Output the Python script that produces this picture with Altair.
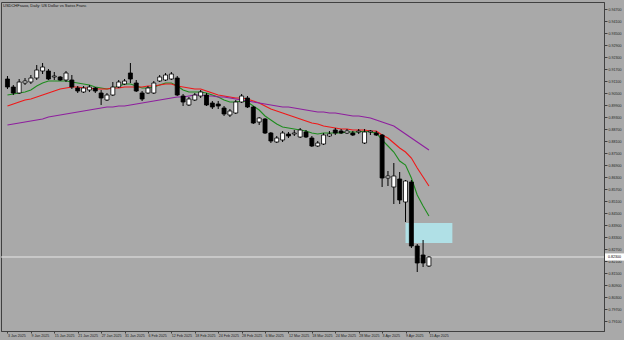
import altair as alt
import pandas as pd

title_text = "USDCHFsaxo, Daily: US Dollar vs Swiss Franc"

date_labels = ["3 Jan 2025", "9 Jan 2025", "15 Jan 2025", "21 Jan 2025", "27 Jan 2025",
               "31 Jan 2025", "6 Feb 2025", "12 Feb 2025", "18 Feb 2025", "24 Feb 2025",
               "28 Feb 2025", "6 Mar 2025", "12 Mar 2025", "18 Mar 2025", "24 Mar 2025",
               "28 Mar 2025", "3 Apr 2025", "9 Apr 2025", "15 Apr 2025"]
date_tick_bars = [0, 4, 8, 12, 16, 20, 24, 28, 32, 36, 40, 44, 48, 52, 56, 60, 64, 68, 72]

price_ticks = [0.947, 0.941, 0.935, 0.929, 0.923, 0.917, 0.911, 0.905, 0.899, 0.893,
               0.887, 0.881, 0.875, 0.869, 0.863, 0.857, 0.851, 0.845, 0.839, 0.833,
               0.827, 0.821, 0.815, 0.809, 0.803, 0.797, 0.791]

opens = [.9120, .9080, .9050, .9100, .9105, .9125, .9160, .9160, .9130, .9130,
         .9115, .9115, .9075, .9055, .9065, .9075, .9050, .9015, .9040, .9080,
         .9095, .9150, .9100, .9050, .9050, .9050, .9110, .9115, .9120, .9125,
         .9035, .8990, .9015, .9035, .9040, .9000, .8995, .8975, .8940, .8950,
         .9005, .9025, .8980, .8905, .8920, .8850, .8805, .8815, .8845, .8845,
         .8830, .8855, .8825, .8785, .8795, .8835, .8865, .8860, .8850, .8850,
         .8855, .8800, .8855, .8850, .8840, .8625, .8580, .8620, .8505, .8605,
         .8285, .8240, .8185]
highs = [.9135, .9090, .9120, .9125, .9140, .9190, .9200, .9170, .9155, .9135,
         .9160, .9140, .9085, .9085, .9090, .9080, .9065, .9050, .9105, .9115,
         .9120, .9200, .9115, .9060, .9085, .9110, .9140, .9150, .9155, .9135,
         .9045, .9030, .9050, .9065, .9050, .9010, .9010, .8985, .8970, .9015,
         .9045, .9035, .8985, .8930, .8925, .8855, .8835, .8860, .8855, .8865,
         .8875, .8865, .8835, .8810, .8850, .8860, .8875, .8870, .8870, .8860,
         .8870, .8870, .8865, .8860, .8845, .8660, .8700, .8655, .8615, .8615,
         .8295, .8315, .8235]
lows = [.9070, .9040, .9045, .9090, .9095, .9115, .9145, .9115, .9115, .9110,
        .9105, .9070, .9050, .9050, .9055, .9050, .8990, .9010, .9035, .9075,
        .9090, .9100, .9055, .9010, .9045, .9045, .9105, .9110, .9115, .9035,
        .8985, .8985, .9010, .9025, .8985, .8970, .8970, .8935, .8930, .8945,
        .9000, .8975, .8895, .8890, .8845, .8800, .8800, .8805, .8825, .8835,
        .8825, .8825, .8780, .8780, .8790, .8830, .8840, .8845, .8845, .8835,
        .8845, .8795, .8840, .8835, .8580, .8585, .8495, .8495, .8405, .8275,
        .8155, .8180, .8180]
closes = [.9080, .9050, .9105, .9110, .9125, .9165, .9180, .9120, .9135, .9115,
          .9150, .9080, .9060, .9075, .9080, .9060, .9025, .9040, .9080, .9105,
          .9110, .9120, .9060, .9020, .9075, .9100, .9130, .9140, .9145, .9040,
          .9005, .9020, .9040, .9055, .8990, .8980, .8985, .8945, .8960, .9005,
          .9035, .8980, .8900, .8925, .8850, .8810, .8825, .8850, .8835, .8850,
          .8865, .8830, .8785, .8800, .8840, .8845, .8850, .8850, .8860, .8840,
          .8860, .8855, .8860, .8840, .8625, .8635, .8635, .8515, .8610, .8285,
          .8200, .8200, .8230]

ma_fast = [.9040, .9045, .9050, .9055, .9065, .9085, .9100, .9110, .9110, .9110,
           .9110, .9105, .9100, .9095, .9090, .9080, .9075, .9070, .9075, .9085,
           .9095, .9095, .9085, .9075, .9075, .9080, .9090, .9100, .9100, .9085,
           .9065, .9055, .9055, .9055, .9050, .9040, .9030, .9015, .9005, .9005,
           .9010, .9005, .8985, .8965, .8935, .8915, .8895, .8880, .8875, .8870,
           .8865, .8860, .8850, .8845, .8850, .8850, .8850, .8850, .8855, .8855,
           .8855, .8860, .8855, .8850, .8815, .8785, .8755, .8710, .8690, .8625,
           .8540, .8485, .8435]
ma_mid = [.8985, .8995, .9005, .9015, .9020, .9030, .9040, .9050, .9060, .9070,
          .9075, .9080, .9080, .9075, .9075, .9070, .9070, .9070, .9075, .9075,
          .9080, .9080, .9080, .9080, .9085, .9085, .9090, .9095, .9095, .9085,
          .9080, .9075, .9070, .9070, .9060, .9050, .9040, .9035, .9030, .9025,
          .9025, .9020, .9010, .9000, .8985, .8970, .8960, .8950, .8940, .8930,
          .8920, .8910, .8900, .8895, .8885, .8880, .8875, .8870, .8870, .8865,
          .8865, .8865, .8860, .8860, .8840, .8825, .8800, .8775, .8755, .8725,
          .8675, .8630, .8585]
ma_slow = [.8890, .8895, .8900, .8905, .8910, .8915, .8920, .8930, .8935, .8940,
           .8945, .8950, .8955, .8960, .8965, .8970, .8975, .8980, .8980, .8985,
           .8985, .8990, .8995, .9000, .9005, .9010, .9015, .9020, .9025, .9030,
           .9030, .9035, .9040, .9040, .9035, .9035, .9030, .9030, .9025, .9020,
           .9015, .9010, .9005, .9000, .8995, .8990, .8985, .8980, .8980, .8975,
           .8970, .8965, .8960, .8955, .8955, .8950, .8950, .8945, .8940, .8935,
           .8935, .8930, .8925, .8915, .8905, .8895, .8885, .8865, .8845, .8825,
           .8805, .8785, .8765]

zone_bar_start, zone_bar_end = 68, 76
zone_low, zone_high = 0.8300, 0.8400
current_price = 0.8230

# ---------------------------------------------------------------------------
bars = list(range(len(opens)))
df = pd.DataFrame({"i": bars, "open": opens, "high": highs, "low": lows, "close": closes})
df["bull"] = df["close"] >= df["open"]

ma_df = pd.concat([
    pd.DataFrame({"i": bars, "v": ma_fast, "s": "fast"}),
    pd.DataFrame({"i": bars, "v": ma_mid, "s": "mid"}),
    pd.DataFrame({"i": bars, "v": ma_slow, "s": "slow"}),
])

zone_df = pd.DataFrame({"x0": [zone_bar_start], "x1": [zone_bar_end],
                        "y0": [zone_low], "y1": [zone_high]})
price_df = pd.DataFrame({"p": [current_price], "lo": [current_price - 0.0018],
                         "hi": [current_price + 0.0018],
                         "t": [f"{current_price:.5f}"]})
title_df = pd.DataFrame({"t": [title_text]})

W, H = 603, 329
AXC = "#1e1e1e"
FONT = "Liberation Sans"

xscale = alt.Scale(domain=[-0.25, 101.05], nice=False, zero=False)
yscale = alt.Scale(domain=[0.786, 0.9505], nice=False, zero=False)

js_labels = "[" + ",".join("'" + s + "'" for s in date_labels) + "]"
xaxis = alt.Axis(values=date_tick_bars, labelExpr=js_labels + "[round(datum.value/4)]",
                 title=None, grid=False, orient="bottom", labelAlign="left",
                 labelFontSize=3.6, labelColor=AXC, labelFont=FONT, tickColor="#404040",
                 tickSize=2, labelPadding=0.5, domainColor="#404040", labelOverlap=False,
                 labelFlush=False)
yaxis = alt.Axis(values=price_ticks, format=".5f", title=None, grid=False, orient="right",
                 labelFontSize=3.6, labelColor=AXC, labelFont=FONT, tickColor="#404040",
                 tickSize=3, labelPadding=1, domainColor="#404040", labelOverlap=False,
                 labelFlush=False)


def X(f):
    return alt.X(f, type="quantitative", scale=xscale, axis=xaxis)


def Y(f):
    return alt.Y(f, type="quantitative", scale=yscale, axis=yaxis)


zone = alt.Chart(zone_df).mark_rect(color="#B0E0E6", opacity=1).encode(
    x=X("x0"), x2="x1", y=Y("y0"), y2="y1")

price_line = alt.Chart(price_df).mark_rule(color="#E6E6E6", strokeWidth=1).encode(
    y=Y("p"), x=alt.value(0), x2=alt.value(W))

ma = alt.Chart(ma_df).mark_line(strokeWidth=1.1, interpolate="linear").encode(
    x=X("i"), y=Y("v"),
    color=alt.Color("s:N", scale=alt.Scale(domain=["fast", "mid", "slow"],
                                           range=["#1E8C1E", "#F01818", "#8E1F9E"]),
                    legend=None),
    detail="s:N")

wicks = alt.Chart(df).mark_rule(color="#000000", strokeWidth=1).encode(
    x=X("i"), y=Y("low"), y2="high")

bodies = alt.Chart(df).mark_bar(size=4, stroke="#000000", strokeWidth=0.8).encode(
    x=X("i"), y=Y("open"), y2="close",
    fill=alt.condition("datum.bull", alt.value("#FFFFFF"), alt.value("#000000")))

plot = alt.layer(zone, price_line, ma, wicks, bodies)

price_box = alt.Chart(price_df).mark_rect(color="#FFFFFF", clip=False).encode(
    x=alt.value(W + 1), x2=alt.value(W + 20), y=Y("lo"), y2="hi")
price_txt = alt.Chart(price_df).mark_text(align="left", baseline="middle", fontSize=3.6,
                                          font=FONT, color="#000000", clip=False).encode(
    x=alt.value(W + 4), y=Y("p"), text="t:N")

title = alt.Chart(title_df).mark_text(align="left", baseline="top", fontSize=4,
                                      font=FONT, color="#111111").encode(
    x=alt.value(2), y=alt.value(2), text="t:N")

chart = alt.layer(plot, price_box, price_txt, title).properties(
    width=W, height=H,
    padding={"left": 1, "top": 2, "right": 20, "bottom": 9},
    autosize=alt.AutoSizeParams(type="none"),
    background="#A9A9A9",
).configure_view(fill="#A9A9A9", stroke="#404040", strokeWidth=1)

chart.save("out.html", embed_options={"renderer": "svg", "actions": False})
